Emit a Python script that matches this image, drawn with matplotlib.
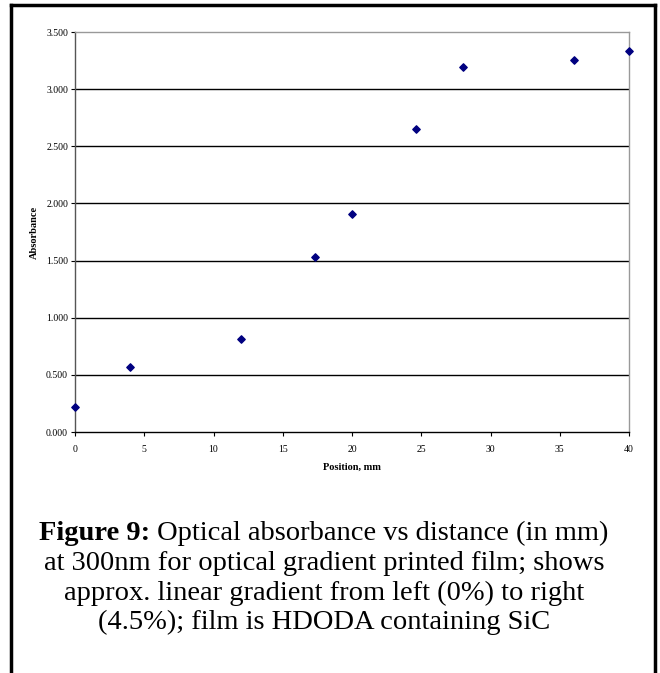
import matplotlib.pyplot as plt

plt.rcParams['font.family'] = ['Liberation Serif', 'DejaVu Serif']

# absorbance at 300nm along the printed film
position = [0, 4, 12, 17.3, 20, 24.6, 28, 36, 40]
absorbance = [0.215, 0.570, 0.810, 1.533, 1.905, 2.648, 3.196, 3.257, 3.336]

x_ticks = [0, 5, 10, 15, 20, 25, 30, 35, 40]
y_ticks = [0.0, 0.5, 1.0, 1.5, 2.0, 2.5, 3.0, 3.5]

W, H = 660, 673
fig = plt.figure(figsize=(W / 100, H / 100), dpi=100)

# outer frame around figure + caption (no bottom edge)
fig.add_artist(plt.Line2D([11 / W, 11 / W], [0, 1 - 5 / H], color="black", lw=2.5))
fig.add_artist(plt.Line2D([655 / W, 655 / W], [0, 1 - 5 / H], color="black", lw=2.5))
fig.add_artist(plt.Line2D([11 / W, 655 / W], [1 - 5 / H, 1 - 5 / H], color="black", lw=2.5))

ax = fig.add_axes([75 / W, 1 - 432 / H, (629 - 75) / W, (432 - 32) / H])
ax.set_xlim(0, 40)
ax.set_ylim(0, 3.5)
ax.set_xticks(x_ticks)
ax.set_yticks(y_ticks)
ax.set_yticklabels([f"{v:.3f}" for v in y_ticks])

for v in y_ticks[1:-1]:
    ax.axhline(v, color="black", lw=1.0, zorder=1)

ax.scatter(position, absorbance, marker="D", s=14, color="#000080", zorder=3, clip_on=False)

ax.spines["left"].set_color("#555555")
ax.spines["bottom"].set_color("black")
ax.spines["top"].set_color("#999999")
ax.spines["right"].set_color("#999999")
for s in ax.spines.values():
    s.set_linewidth(1.0)

ax.tick_params(axis="both", direction="out", length=3, width=0.8, labelsize=7, pad=2)
ax.tick_params(axis="x", pad=6)

ax.set_xlabel("Position, mm", fontsize=7.5, fontweight="bold", labelpad=7)
ax.set_ylabel("Absorbance", fontsize=7.5, fontweight="bold", labelpad=5)

# caption
fs = 20.5
cx = 324
lines = [
    "Optical absorbance vs distance (in mm)",
    "at 300nm for optical gradient printed film; shows",
    "approx. linear gradient from left (0%) to right",
    "(4.5%); film is HDODA containing SiC",
]
ys = [533, 563, 593, 622]

# first line: bold prefix + regular rest, centred together
r = fig.canvas.get_renderer()
t1 = fig.text(0, 0, "Figure 9:", fontsize=fs, fontweight="bold", va="center")
t2 = fig.text(0, 0, " " + lines[0], fontsize=fs, va="center")
w1 = t1.get_window_extent(r).width
w2 = t2.get_window_extent(r).width
start = cx - (w1 + w2) / 2
t1.set_position((start / W, 1 - ys[0] / H))
t2.set_position(((start + w1) / W, 1 - ys[0] / H))

for txt, y in zip(lines[1:], ys[1:]):
    fig.text(cx / W, 1 - y / H, txt, fontsize=fs, ha="center", va="center")

fig.savefig("out.png", dpi=100)
